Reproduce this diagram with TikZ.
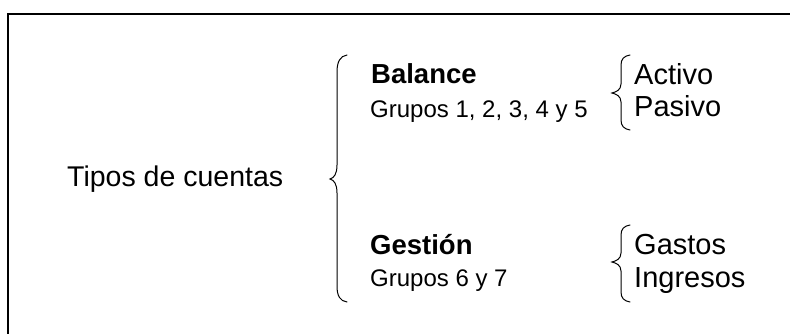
\documentclass[tikz,border=0pt]{standalone}
\usepackage{fontspec}
\setmainfont{Liberation Sans}
\begin{document}
\begin{tikzpicture}[x=1pt,y=-1pt,
  lbl/.style={inner sep=0pt, anchor=base west},
  brc/.style={line width=1pt, line cap=round},
  big/.style={font=\fontsize{28.5}{34}\selectfont},
  head/.style={font=\fontsize{27.5}{33}\selectfont\bfseries},
  sub/.style={font=\fontsize{24}{29}\selectfont},
  item/.style={font=\fontsize{29}{35}\selectfont}]
\useasboundingbox (0,0) rectangle (790,334);
\draw[line width=1.5pt] (8,400) -- (8,14) -- (800,14);
% texts
\node[lbl,big] (tipos) at (67,186) {Tipos de cuentas};
\node[lbl,head] (bal) at (371,84) {Balance};
\node[lbl,sub] (g1) at (370,118) {Grupos 1, 2, 3, 4 y 5};
\node[lbl,head] (ges) at (370,254) {Gestión};
\node[lbl,sub] (g2) at (370,286) {Grupos 6 y 7};
\node[lbl,item] (act) at (634,85) {Activo};
\node[lbl,item] (pas) at (634,117) {Pasivo};
\node[lbl,item] (gas) at (634,254) {Gastos};
\node[lbl,item] (ing) at (634,287) {Ingresos};
% big brace
\draw[brc] (347,55) .. controls (340,56) and (337,62) .. (337,72)
  -- (337,165) .. controls (337,174) and (334,178) .. (330,179)
  .. controls (334,180) and (337,184) .. (337,193)
  -- (337,286) .. controls (337,296) and (340,301) .. (347,302);
% small braces
\draw[brc] (630,55) .. controls (624,56) and (621,59) .. (621,65)
  -- (621,84) .. controls (621,90) and (616,92) .. (612,93)
  .. controls (616,94) and (621,96) .. (621,102)
  -- (621,120) .. controls (621,126) and (624,129) .. (630,130);
\draw[brc] (630,225) .. controls (624,226) and (621,229) .. (621,235)
  -- (621,253) .. controls (621,259) and (616,261) .. (612,262)
  .. controls (616,263) and (621,265) .. (621,271)
  -- (621,292) .. controls (621,298) and (624,301) .. (630,302);
\end{tikzpicture}
\end{document}
